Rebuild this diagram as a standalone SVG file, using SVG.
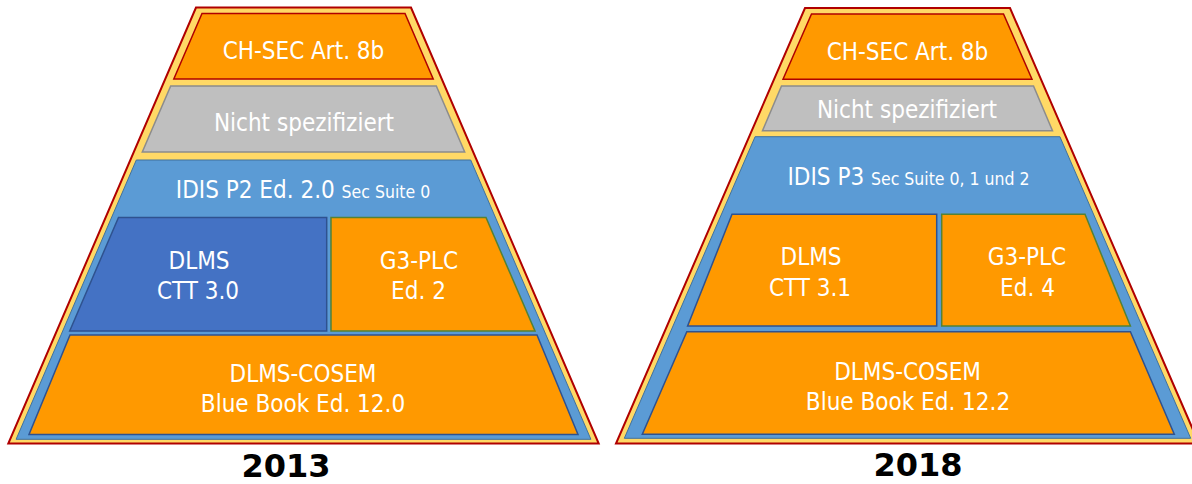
<svg xmlns="http://www.w3.org/2000/svg" width="1192" height="484" viewBox="0 0 1192 484">
<style>
.outer{fill:#FFD966;stroke:#B00000;stroke-width:2;stroke-linejoin:miter}
.sec{fill:#FF9900;stroke:#B00000;stroke-width:1.5}
.gray{fill:#BFBFBF;stroke:#8C8C8C;stroke-width:1.5}
.blue{fill:#5B9BD5;stroke:#41719C;stroke-width:1}
.dblue{fill:#4472C4;stroke:#2F528F;stroke-width:1.5}
.org{fill:#FF9900;stroke:#2F528F;stroke-width:1.5}
.g3{fill:#FF9900;stroke:#548235;stroke-width:1.5}
.t{font-family:'DejaVu Sans Condensed','DejaVu Sans',sans-serif;font-stretch:condensed;font-size:24px;fill:#FFFFFF;text-anchor:middle}
.s{font-size:17.5px}
.yr{font-family:'DejaVu Sans','Liberation Sans',sans-serif;font-weight:bold;font-size:32px;fill:#000000;text-anchor:middle}
</style>
<rect width="1192" height="484" fill="#FFFFFF"/>
<g id="pyramid-2013">
  <g id="p2013-outer"><polygon class="outer" points="196,7.5 411,7.5 598.7,443.5 8.3,443.5"/></g>
  <g id="p2013-chsec"><polygon class="sec" points="202,13.5 405,13.5 433.2,79 173.8,79"/><text class="t" x="303.5" y="59.3">CH-SEC Art. 8b</text></g>
  <g id="p2013-nicht"><polygon class="gray" points="170.7,86 436.3,86 464.7,152 142.3,152"/><text class="t" x="304" y="131">Nicht spezifiziert</text></g>
  <g id="p2013-idis"><polygon class="blue" points="136.3,160 470.7,160 590.9,439.3 16.1,439.3"/><text class="t" x="303" y="198.3">IDIS P2 Ed. 2.0 <tspan class="s">Sec Suite 0</tspan></text></g>
  <g id="p2013-dlms"><polygon class="dblue" points="118.5,217.5 326.7,217.5 326.7,331 69.7,331"/><text class="t" x="199" y="269">DLMS</text><text class="t" x="198" y="299">CTT 3.0</text></g>
  <g id="p2013-g3"><polygon class="g3" points="331,217.5 486,217.5 535,331 331,331"/><text class="t" x="419" y="269">G3-PLC</text><text class="t" x="418.5" y="299">Ed. 2</text></g>
  <g id="p2013-cosem"><polygon class="org" points="70,335 537,335 578,434.5 29,434.5"/><text class="t" x="303" y="382">DLMS-COSEM</text><text class="t" x="303" y="411.7">Blue Book Ed. 12.0</text></g>
  <g id="label-2013"><text class="yr" x="286" y="477">2013</text></g>
</g>
<g id="pyramid-2018">
  <g id="p2018-outer"><polygon class="outer" points="805,8 1010,8 1199,443.5 616,443.5"/></g>
  <g id="p2018-chsec"><polygon class="sec" points="811.5,14 1003.5,14 1032,79.3 783,79.3"/><text class="t" x="907.5" y="60">CH-SEC Art. 8b</text></g>
  <g id="p2018-nicht"><polygon class="gray" points="781.5,86 1033.5,86 1052.5,130.7 762.5,130.7"/><text class="t" x="907" y="118.3">Nicht spezifiziert</text></g>
  <g id="p2018-idis"><polygon class="blue" points="755.1,136.7 1059.9,136.7 1190.7,438.3 624.3,438.3"/><text class="t" x="908.5" y="185">IDIS P3 <tspan class="s">Sec Suite 0, 1 und 2</tspan></text></g>
  <g id="p2018-dlms"><polygon class="org" points="732,214.3 936.7,214.3 936.7,326 687.6,326"/><text class="t" x="811" y="265">DLMS</text><text class="t" x="810" y="295.7">CTT 3.1</text></g>
  <g id="p2018-g3"><polygon class="g3" points="941.7,214.3 1085,214.3 1130.4,326 941.7,326"/><text class="t" x="1027" y="265">G3-PLC</text><text class="t" x="1027.5" y="295.7">Ed. 4</text></g>
  <g id="p2018-cosem"><polygon class="org" points="686.8,331.7 1130.4,331.7 1174.3,434.3 642.3,434.3"/><text class="t" x="907.6" y="380">DLMS-COSEM</text><text class="t" x="908" y="410">Blue Book Ed. 12.2</text></g>
  <g id="label-2018"><text class="yr" x="918" y="476">2018</text></g>
</g>
<g id="connectors"/>
</svg>
